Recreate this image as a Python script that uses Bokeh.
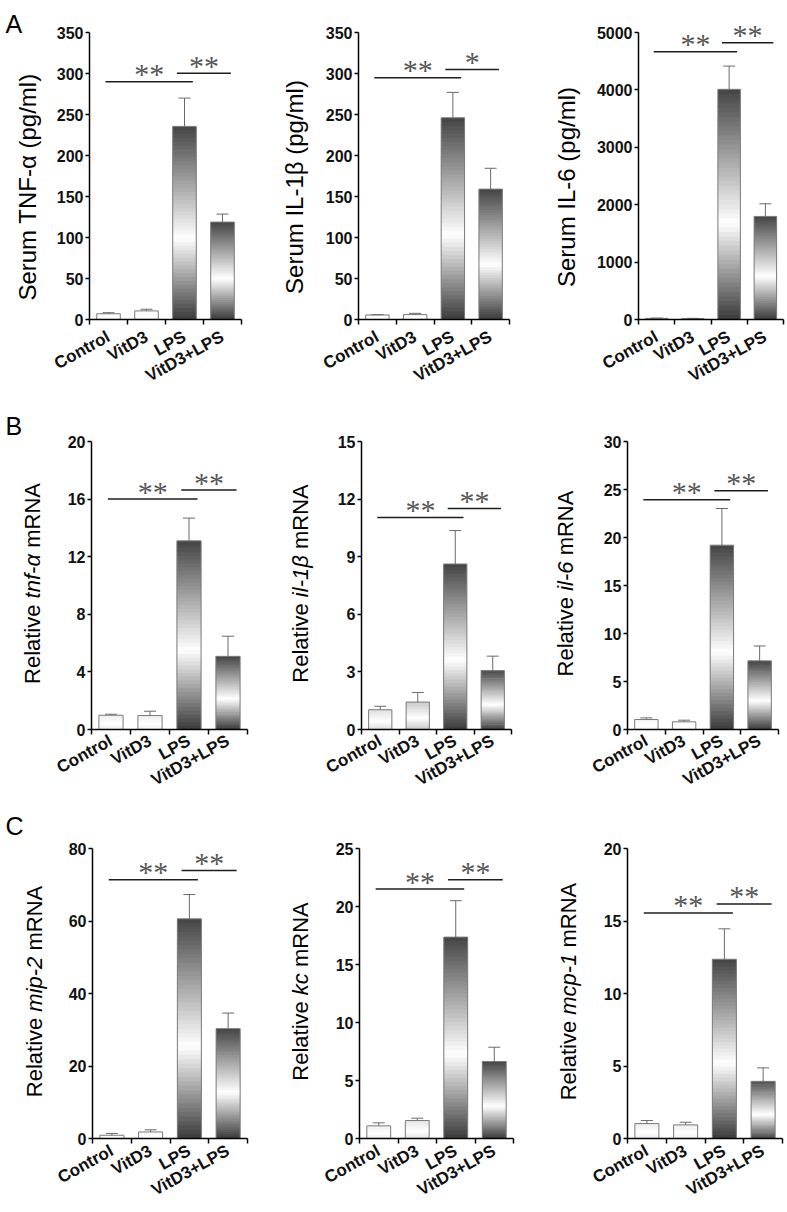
import math
from bokeh.plotting import figure
from bokeh.models import Range1d, FixedTicker, Label
from bokeh.layouts import column, row
from bokeh.embed import file_html
from bokeh.resources import INLINE

categories = ["Control", "VitD3", "LPS", "VitD3+LPS"]

# ---- A: serum cytokines (mean, SEM) ----
serum_tnf_mean = [7.0, 10.5, 235.5, 118.8]
serum_tnf_sem = [1.3, 2.0, 34.5, 9.8]
serum_il1b_mean = [5.5, 6.0, 246.0, 159.0]
serum_il1b_sem = [0.4, 1.5, 31.0, 25.4]
serum_il6_mean = [20.0, 15.0, 4010.0, 1796.0]
serum_il6_sem = [5.0, 5.0, 405.0, 220.0]

# ---- B: relative mRNA ----
tnf_mrna_mean = [0.99, 0.97, 13.1, 5.08]
tnf_mrna_sem = [0.07, 0.30, 1.58, 1.40]
il1b_mrna_mean = [1.03, 1.43, 8.62, 3.07]
il1b_mrna_sem = [0.18, 0.50, 1.74, 0.75]
il6_mrna_mean = [1.04, 0.80, 19.2, 7.15]
il6_mrna_sem = [0.17, 0.17, 3.82, 1.55]

# ---- C: relative mRNA ----
mip2_mrna_mean = [0.9, 1.8, 60.6, 30.3]
mip2_mrna_sem = [0.5, 0.6, 6.7, 4.3]
kc_mrna_mean = [1.09, 1.55, 17.36, 6.64]
kc_mrna_sem = [0.26, 0.20, 3.14, 1.23]
mcp1_mrna_mean = [1.03, 0.94, 12.36, 3.94]
mcp1_mrna_sem = [0.21, 0.18, 2.10, 0.93]

# ---- y-axis ticks ----
ticks_serum_tnf = [0, 50, 100, 150, 200, 250, 300, 350]
ticks_serum_il1b = [0, 50, 100, 150, 200, 250, 300, 350]
ticks_serum_il6 = [0, 1000, 2000, 3000, 4000, 5000]
ticks_tnf = [0, 4, 8, 12, 16, 20]
ticks_il1b = [0, 3, 6, 9, 12, 15]
ticks_il6 = [0, 5, 10, 15, 20, 25, 30]
ticks_mip2 = [0, 20, 40, 60, 80]
ticks_kc = [0, 5, 10, 15, 20, 25]
ticks_mcp1 = [0, 5, 10, 15, 20]

# ---- significance brackets: heights [long, short] and marks ----
sig_serum_tnf = [289.8, 300.4]
sig_serum_il1b = [294.7, 305.0]
sig_serum_il6 = [4664.0, 4820.0]
sig_tnf = [16.0, 16.63]
sig_il1b = [11.04, 11.51]
sig_il6 = [23.93, 24.87]
sig_mip2 = [71.4, 73.9]
sig_kc = [21.5, 22.3]
sig_mcp1 = [15.56, 16.18]
marks_default = ["**", "**"]
marks_serum_il1b = ["**", "*"]

# y-axis titles
title_serum_tnf = "Serum TNF-α (pg/ml)"
title_serum_il1b = "Serum IL-1β (pg/ml)"
title_serum_il6 = "Serum IL-6 (pg/ml)"
gene_tnf, gene_il1b, gene_il6 = "tnf-α", "il-1β", "il-6"
gene_mip2, gene_kc, gene_mcp1 = "mip-2", "kc", "mcp-1"
panel_letters = ["A", "B", "C"]

# ---------------- layout geometry (px, page starts at 0,0) ----------------
COL_W = [266, 260, 260]
ROW_H = [408, 400, 402]
FRAME_X = [[(89, 152), (92, 151), (112, 145)],
           [(91, 156), (95, 150), (101, 151)],
           [(92, 155), (93, 154), (101, 155)]]
FRAME_Y = [(32, 287), (33, 288), (40, 290)]
LETTER_POS = [(5, 23), (5, 17), (5, 17)]
YLAB_X = [[62, 64, 72], [59, 61, 62], [58, 59, 59]]
YLAB_SHIFT = [-11, 2, 2]
YLAB_FS = [24, 22, 22]
XLAB_STANDOFF = [11, 5, 6]
LONG_X = (0.42, 2.72)
SHORT_X = (2.30, 3.72)

FONT = "Liberation Sans"
CW = {"R": 722, "e": 556, "l": 222, "a": 556, "t": 278, "i": 222, "v": 500,
      "m": 833, "N": 722, "A": 667, "n": 556, "f": 278, "-": 333, "p": 556,
      "c": 500, "k": 500, "1": 556, "2": 556, "6": 556, "α": 578, "β": 575,
      " ": 278}


def text_w(s, fs):
    return sum(CW.get(ch, 556) for ch in s) * fs / 1000.0


def gray_hex(g):
    g = int(round(max(0, min(255, g))))
    return "#%02x%02x%02x" % (g, g, g)


specs = [
    [dict(mean=serum_tnf_mean, sem=serum_tnf_sem, ticks=ticks_serum_tnf, sig=sig_serum_tnf,
          marks=marks_default, title=title_serum_tnf),
     dict(mean=serum_il1b_mean, sem=serum_il1b_sem, ticks=ticks_serum_il1b, sig=sig_serum_il1b,
          marks=marks_serum_il1b, title=title_serum_il1b),
     dict(mean=serum_il6_mean, sem=serum_il6_sem, ticks=ticks_serum_il6, sig=sig_serum_il6,
          marks=marks_default, title=title_serum_il6)],
    [dict(mean=tnf_mrna_mean, sem=tnf_mrna_sem, ticks=ticks_tnf, sig=sig_tnf,
          marks=marks_default, gene=gene_tnf),
     dict(mean=il1b_mrna_mean, sem=il1b_mrna_sem, ticks=ticks_il1b, sig=sig_il1b,
          marks=marks_default, gene=gene_il1b),
     dict(mean=il6_mrna_mean, sem=il6_mrna_sem, ticks=ticks_il6, sig=sig_il6,
          marks=marks_default, gene=gene_il6)],
    [dict(mean=mip2_mrna_mean, sem=mip2_mrna_sem, ticks=ticks_mip2, sig=sig_mip2,
          marks=marks_default, gene=gene_mip2),
     dict(mean=kc_mrna_mean, sem=kc_mrna_sem, ticks=ticks_kc, sig=sig_kc,
          marks=marks_default, gene=gene_kc),
     dict(mean=mcp1_mrna_mean, sem=mcp1_mrna_sem, ticks=ticks_mcp1, sig=sig_mcp1,
          marks=marks_default, gene=gene_mcp1)],
]

N_SLICES = 50
T_WHITE = 0.42
DARK_BOTTOM = 58
DARK_TOP = 68
BAR_W = 0.62


def make_panel(r, c, spec):
    lb, fw = FRAME_X[r][c]
    tb, fh = FRAME_Y[r]
    W, H = COL_W[c], ROW_H[r]
    ticks = spec["ticks"]
    ymax = ticks[-1]

    def dx(px):
        return px * 4.0 / fw

    def dy(px):
        return px * ymax / fh

    # the plotting frame covers the whole figure; axes are pinned at data 0
    x_range = Range1d(-dx(lb), 4 + dx(W - lb - fw))
    y_range = Range1d(-dy(H - tb - fh), ymax + dy(tb))
    p = figure(width=W, height=H, x_range=x_range, y_range=y_range,
               output_backend="svg", toolbar_location=None, title=None,
               min_border_left=0, min_border_right=0, min_border_top=0, min_border_bottom=0)
    p.outline_line_color = None
    p.xgrid.visible = False
    p.ygrid.visible = False
    p.background_fill_color = "white"
    p.border_fill_color = "white"

    mean, sem = spec["mean"], spec["sem"]
    centers = [i + 0.5 for i in range(len(categories))]

    # gradient-filled bars
    L, R, B, T, C = [], [], [], [], []
    for i, v in enumerate(mean):
        hpx = v / ymax * fh
        inten = min(1.0, hpx / 60.0) ** 1.5
        for k in range(N_SLICES):
            t = (k + 0.5) / N_SLICES
            if t < T_WHITE:
                g = DARK_BOTTOM + (255 - DARK_BOTTOM) * (t / T_WHITE)
            else:
                g = 255 + (DARK_TOP - 255) * ((t - T_WHITE) / (1 - T_WHITE))
            g = 255 - inten * (255 - g)
            L.append(centers[i] - BAR_W / 2)
            R.append(centers[i] + BAR_W / 2)
            B.append(v * k / N_SLICES)
            T.append(min(v, v * (k + 1.5) / N_SLICES))
            C.append(gray_hex(g))
    p.quad(left=L, right=R, bottom=B, top=T, fill_color=C, line_color=None)
    p.quad(left=[x - BAR_W / 2 for x in centers], right=[x + BAR_W / 2 for x in centers],
           bottom=[0] * 4, top=mean, fill_color=None, line_color="#7a7a7a", line_width=1)

    # error bars (upper)
    tops = [m + s for m, s in zip(mean, sem)]
    p.segment(x0=centers, y0=mean, x1=centers, y1=tops, line_color="#6a6a6a", line_width=1)
    p.segment(x0=[x - dx(6) for x in centers], y0=tops, x1=[x + dx(6) for x in centers], y1=tops,
              line_color="#6a6a6a", line_width=1)

    # significance brackets
    sig = spec["sig"]
    p.segment(x0=[LONG_X[0], SHORT_X[0]], x1=[LONG_X[1], SHORT_X[1]], y0=sig, y1=sig,
              line_color="#1e1e1e", line_width=1.5)
    for (x0, x1), yv, mk in zip([LONG_X, SHORT_X], sig, spec["marks"]):
        p.add_layout(Label(x=(x0 + x1) / 2, y=yv + dy(8), text=mk, text_align="center",
                           text_baseline="alphabetic", text_font="Liberation Serif",
                           text_font_size="30px", text_color="#555555"))

    # axes (pinned at 0, limited to the data extent)
    ya = p.yaxis[0]
    ya.fixed_location = 0
    ya.bounds = (0, ymax)
    ya.ticker = FixedTicker(ticks=ticks)
    ya.axis_line_color = "black"
    ya.axis_line_width = 1.5
    ya.major_tick_line_width = 1.5
    ya.major_tick_out = 4
    ya.major_tick_in = 0
    ya.minor_tick_line_color = None
    ya.major_label_standoff = 2
    ya.major_label_text_font = FONT
    ya.major_label_text_font_style = "bold"
    ya.major_label_text_font_size = "16px"
    ya.major_label_text_color = "#111111"

    xa = p.xaxis[0]
    xa.fixed_location = 0
    xa.bounds = (0, 4)
    xa.ticker = FixedTicker(ticks=centers, minor_ticks=[0, 1, 2, 3, 4])
    xa.major_label_overrides = {x: cat for x, cat in zip(centers, categories)}
    xa.major_label_orientation = math.radians(29)
    xa.major_label_standoff = XLAB_STANDOFF[r]
    xa.major_label_text_font = FONT
    xa.major_label_text_font_style = "bold"
    xa.major_label_text_font_size = "17px"
    xa.major_label_text_color = "#111111"
    xa.axis_line_color = "black"
    xa.axis_line_width = 1.5
    xa.major_tick_line_color = None
    xa.major_tick_out = 0
    xa.major_tick_in = 0
    xa.minor_tick_line_color = "black"
    xa.minor_tick_line_width = 1.5
    xa.minor_tick_out = 5
    xa.minor_tick_in = 0

    # y-axis title (gene names in italics)
    fs = YLAB_FS[r]
    xl = -dx(YLAB_X[r][c])
    yc = ymax / 2 + dy(YLAB_SHIFT[r])
    if "title" in spec:
        p.add_layout(Label(x=xl, y=yc, text=spec["title"], angle=math.pi / 2, text_align="center",
                           text_baseline="middle", text_font=FONT, text_font_size="%dpx" % fs,
                           text_color="black"))
    else:
        pieces = [("Relative", "normal"), (spec["gene"], "italic"), ("mRNA", "normal")]
        sp = text_w(" ", fs)
        total = sum(text_w(s, fs) for s, _ in pieces) + 2 * sp
        pos = -total / 2
        for s, style in pieces:
            p.add_layout(Label(x=xl, y=yc + dy(pos), text=s, angle=math.pi / 2, text_align="left",
                               text_baseline="middle", text_font=FONT, text_font_style=style,
                               text_font_size="%dpx" % fs, text_color="black"))
            pos += text_w(s, fs) + sp

    # panel letter
    if c == 0:
        fig_x, fig_y = LETTER_POS[r]
        p.add_layout(Label(x=dx(fig_x - lb), y=ymax + dy(tb - fig_y),
                           text=panel_letters[r], text_align="left",
                           text_baseline="alphabetic", text_font=FONT, text_font_size="25px",
                           text_color="black"))
    return p


rows = []
for r in range(3):
    rows.append(row(*[make_panel(r, c, specs[r][c]) for c in range(3)]))
layout = column(*rows)

open("out.html", "w").write(file_html(layout, INLINE))
